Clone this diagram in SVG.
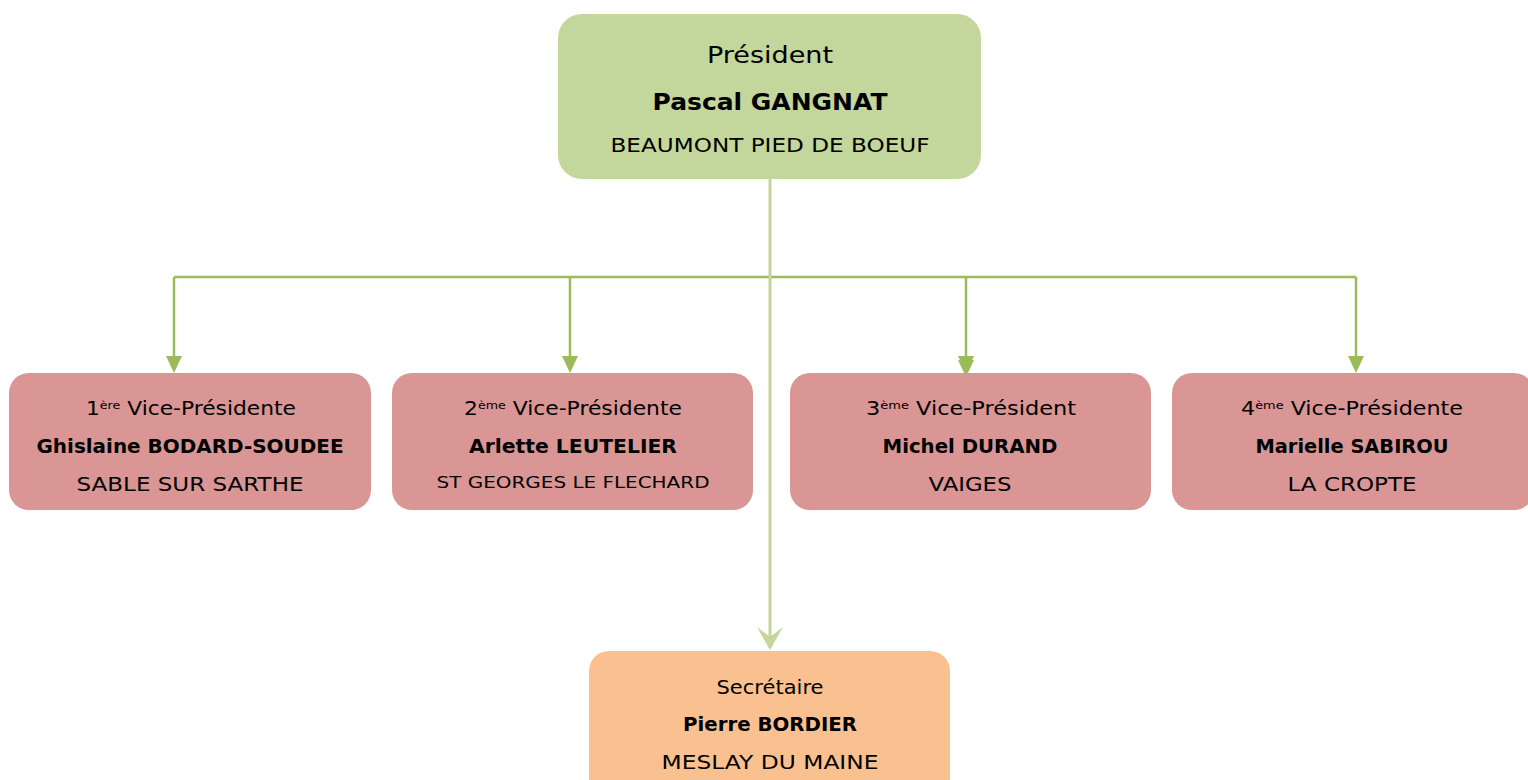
<svg xmlns="http://www.w3.org/2000/svg" width="1528" height="780" viewBox="0 0 1528 780">
<style>
text{font-family:"DejaVu Sans","Noto Sans",sans-serif;fill:#000;text-anchor:middle}
.t{font-size:19px}
.b{font-size:19px;font-weight:bold}
.sup{font-size:11px}
.vp{fill:#D99694}
.conn{stroke:#9BBB59;stroke-width:2.5;fill:none}
.head{fill:#9BBB59}
</style>
<rect width="1528" height="780" fill="#fff"/>
<g id="connectors">
<path class="conn" d="M174,277 H1356"/>
<path d="M770,179 V648" stroke="#C3D69B" stroke-width="3" fill="none"/>
<path d="M757,627 L770,650 L783,627 L770,637 Z" fill="#C3D69B"/>
<path class="conn" d="M174,277 V358"/><path class="head" d="M166,356 H182 L174,373 Z"/>
<path class="conn" d="M570,277 V358"/><path class="head" d="M562,356 H578 L570,373 Z"/>
<path class="conn" d="M966,277 V358"/><path class="head" d="M958,356 H974 L966,373 Z"/><path class="head" d="M958,360 H974 L966,377 Z"/>
<path class="conn" d="M1356,277 V358"/><path class="head" d="M1348,356 H1364 L1356,373 Z"/>
</g>
<g id="president">
<rect x="558" y="14" width="423" height="165" rx="24" fill="#C3D69B"/>
<text x="770" y="63" style="font-size:23px" textLength="126" lengthAdjust="spacingAndGlyphs">Président</text>
<text x="770" y="110" style="font-size:23px;font-weight:bold" textLength="235" lengthAdjust="spacingAndGlyphs">Pascal GANGNAT</text>
<text x="770" y="152" class="t" textLength="319" lengthAdjust="spacingAndGlyphs">BEAUMONT PIED DE BOEUF</text>
</g>
<g id="vp1">
<rect class="vp" x="9" y="373" width="362" height="137" rx="20"/>
<text x="191" y="415" class="t" textLength="210" lengthAdjust="spacingAndGlyphs">1<tspan class="sup" dy="-6">ère</tspan><tspan dy="6"> Vice-Présidente</tspan></text>
<text x="190" y="453" class="b" textLength="307" lengthAdjust="spacingAndGlyphs">Ghislaine BODARD-SOUDEE</text>
<text x="190" y="491" class="t" textLength="227" lengthAdjust="spacingAndGlyphs">SABLE SUR SARTHE</text>
</g>
<g id="vp2">
<rect class="vp" x="392" y="373" width="361" height="137" rx="20"/>
<text x="573" y="415" class="t" textLength="218" lengthAdjust="spacingAndGlyphs">2<tspan class="sup" dy="-6">ème</tspan><tspan dy="6"> Vice-Présidente</tspan></text>
<text x="573" y="453" class="b" textLength="208" lengthAdjust="spacingAndGlyphs">Arlette LEUTELIER</text>
<text x="573" y="488" style="font-size:16px" textLength="273" lengthAdjust="spacingAndGlyphs">ST GEORGES LE FLECHARD</text>
</g>
<g id="vp3">
<rect class="vp" x="790" y="373" width="361" height="137" rx="20"/>
<text x="971" y="415" class="t" textLength="210" lengthAdjust="spacingAndGlyphs">3<tspan class="sup" dy="-6">ème</tspan><tspan dy="6"> Vice-Président</tspan></text>
<text x="970" y="453" class="b" textLength="175" lengthAdjust="spacingAndGlyphs">Michel DURAND</text>
<text x="970" y="491" class="t" textLength="83" lengthAdjust="spacingAndGlyphs">VAIGES</text>
</g>
<g id="vp4">
<rect class="vp" x="1172" y="373" width="362" height="137" rx="20"/>
<text x="1352" y="415" class="t" textLength="222" lengthAdjust="spacingAndGlyphs">4<tspan class="sup" dy="-6">ème</tspan><tspan dy="6"> Vice-Présidente</tspan></text>
<text x="1352" y="453" class="b" textLength="193" lengthAdjust="spacingAndGlyphs">Marielle SABIROU</text>
<text x="1352" y="491" class="t" textLength="129" lengthAdjust="spacingAndGlyphs">LA CROPTE</text>
</g>
<g id="secretary">
<rect x="589" y="651" width="361" height="150" rx="20" fill="#FAC090"/>
<text x="770" y="694" class="t" textLength="107" lengthAdjust="spacingAndGlyphs">Secrétaire</text>
<text x="770" y="731" class="b" textLength="174" lengthAdjust="spacingAndGlyphs">Pierre BORDIER</text>
<text x="770" y="769" class="t" textLength="217" lengthAdjust="spacingAndGlyphs">MESLAY DU MAINE</text>
</g>
</svg>
